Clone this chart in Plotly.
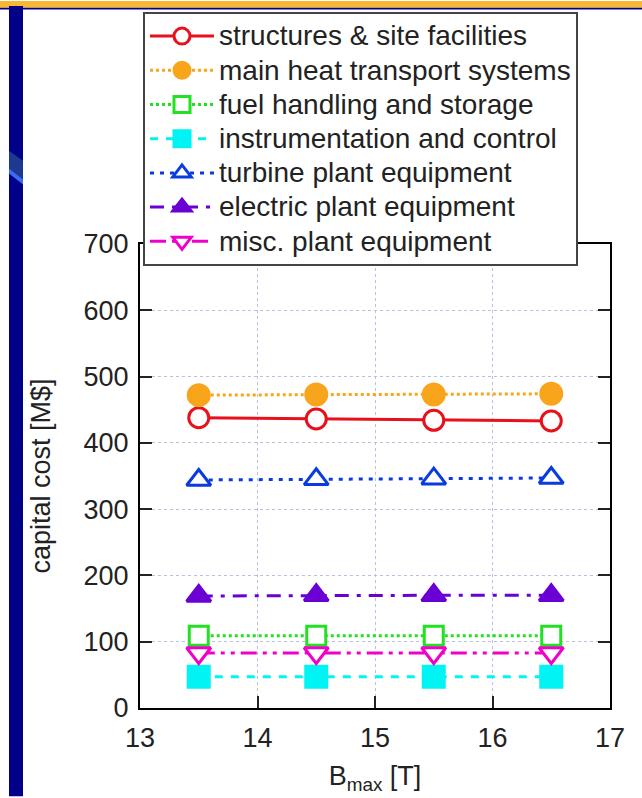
import plotly.graph_objects as go

W, H = 642, 798
L, R, T, B = 140, 32, 240, 90  # plot area margins (px)

b_max = [13.5, 14.5, 15.5, 16.5]
series_names = [
    "structures & site facilities",
    "main heat transport systems",
    "fuel handling and storage",
    "instrumentation and control",
    "turbine plant equipment",
    "electric plant equipment",
    "misc. plant equipment",
]
structures = [438, 436, 434, 433]
main_heat = [472, 473, 473, 474]
fuel_handling = [109, 109, 109, 109]
instrumentation = [47, 47, 47, 47]
turbine = [344, 345, 346, 347]
electric = [169, 170, 170, 170]
misc = [83, 83, 83, 83]

x_ticks = [13, 14, 15, 16, 17]
y_ticks = [0, 100, 200, 300, 400, 500, 600, 700]

styles = [
    dict(color="#e8101a", dash="solid", symbol="circle", fill="white", size=20),
    dict(color="#f8a51c", dash="dot", symbol="circle", fill="#f8a51c", size=21),
    dict(color="#22e022", dash="dot", symbol="square", fill="white", size=19),
    dict(color="#00f4f4", dash="8px,8px", symbol="square", fill="#00f4f4", size=21),
    dict(color="#0a3be0", dash="4px,6px", symbol="triangle-up", fill="white", size=21),
    dict(color="#6a00d4", dash="14px,8px,4px,8px", symbol="triangle-up", fill="#6a00d4", size=21),
    dict(color="#f000c8", dash="16px,6px,4px,6px,4px,6px", symbol="triangle-down", fill="white", size=21),
]
values = [structures, main_heat, fuel_handling, instrumentation, turbine, electric, misc]

FONT = "Liberation Sans"
TXT = "#222"

fig = go.Figure()
for i, (name, vals, st) in enumerate(zip(series_names, values, styles)):
    fig.add_trace(go.Scatter(
        x=b_max, y=vals,
        name=f'<span style="font-size:28px">{name}</span>',
        mode="lines+markers",
        legendgroup=f"g{i}",
        line=dict(color=st["color"], width=3, dash=st["dash"]),
        marker=dict(symbol=st["symbol"], size=st["size"], color=st["fill"],
                    line=dict(color=st["color"], width=3)),
    ))

pw, ph = W - L - R, H - T - B

def px(xp):
    return (xp - L) / pw

def py(yp):
    return (H - B - yp) / ph

shapes = [
    # slide decorations
    dict(type="rect", xref="paper", yref="paper", x0=px(-5), x1=px(W + 5), y0=py(1.6), y1=py(-5),
         fillcolor="#f7b733", line=dict(width=0), layer="below"),
    dict(type="rect", xref="paper", yref="paper", x0=px(-5), x1=px(W + 5), y0=py(3.4), y1=py(1.6),
         fillcolor="#000088", line=dict(width=0), layer="below"),
    dict(type="rect", xref="paper", yref="paper", x0=px(9), x1=px(23), y0=py(797), y1=py(0),
         fillcolor="#000088", line=dict(width=0), layer="below"),
    dict(type="path", xref="paper", yref="paper",
         path=f"M {px(9)},{py(146)} L {px(23)},{py(156)} L {px(23)},{py(178)} L {px(9)},{py(166)} Z",
         fillcolor="#1e3a8e", line=dict(width=0), layer="below"),
    dict(type="path", xref="paper", yref="paper",
         path=f"M {px(9)},{py(164)} L {px(23)},{py(175)} L {px(23)},{py(180)} L {px(9)},{py(169)} Z",
         fillcolor="#3b6cf8", line=dict(width=0), layer="below"),
]

axis_common = dict(
    showline=True, linecolor="black", linewidth=2, mirror="ticks",
    ticks="inside", ticklen=12, tickwidth=2, tickcolor="#222",
    showgrid=True, gridcolor="#b8c0e6", gridwidth=1, griddash="dot",
    zeroline=False, tickfont=dict(family=FONT, size=27, color=TXT),
)

fig.update_layout(
    width=W, height=H,
    margin=dict(l=L, r=R, t=T, b=B, pad=0),
    paper_bgcolor="white", plot_bgcolor="white",
    shapes=shapes,
    font=dict(family=FONT, size=24, color=TXT),
    xaxis=dict(range=[13, 17], tickvals=x_ticks, ticktext=[str(v) for v in x_ticks],
               ticklabelstandoff=5,
               title=dict(text="B<sub>max</sub> [T]", standoff=14,
                          font=dict(family=FONT, size=27, color=TXT)),
               **axis_common),
    yaxis=dict(range=[0, 700], tickvals=y_ticks, ticktext=[str(v) for v in y_ticks],
               ticklabelstandoff=4,
               title=dict(text="capital cost [M$]", standoff=25,
                          font=dict(family=FONT, size=27, color=TXT)),
               **axis_common),
    legend=dict(x=px(143), y=py(6), xanchor="left", yanchor="top",
                bgcolor="white", bordercolor="#444", borderwidth=2,
                font=dict(family=FONT, size=24, color=TXT),
                tracegroupgap=0, itemwidth=64, itemsizing="trace"),
    showlegend=True,
)

fig.write_html("out.html", config={"displayModeBar": False},
               post_script="document.body.style.margin='0px';")
